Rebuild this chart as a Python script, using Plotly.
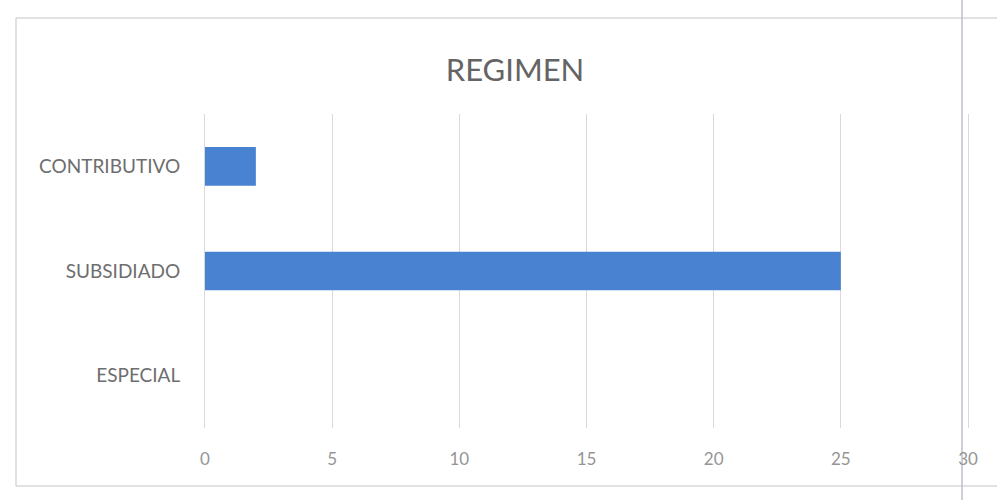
import plotly.graph_objects as go

categories = ["ESPECIAL", "SUBSIDIADO", "CONTRIBUTIVO"]
values = [0, 25, 2]
tick_vals = [0, 5, 10, 15, 20, 25, 30]
title_text = "REGIMEN"

W, H = 997, 500
L, R, T, B = 205, 29, 114, 72

fig = go.Figure(go.Bar(
    y=categories, x=values, orientation="h",
    marker=dict(color="#4a82d2", line=dict(width=0)),
    width=0.37,
))

fig.update_layout(
    width=W, height=H,
    margin=dict(l=L, r=R, t=T, b=B, autoexpand=False),
    paper_bgcolor="white", plot_bgcolor="white",
    title=dict(text=title_text, x=515 / W, xanchor="center", y=1 - 70 / H, yanchor="middle",
               font=dict(family="Lato, Open Sans, sans-serif", size=31, color="#646464")),
    showlegend=False,
    font=dict(family="Lato, Open Sans, sans-serif"),
)
fig.update_xaxes(range=[0, 30], tickvals=tick_vals, showgrid=True, gridcolor="#d9d9d9",
                 gridwidth=1, zeroline=False, showline=False, ticks="", automargin=False,
                 tickfont=dict(size=17, color="#959595"), ticklabelstandoff=19)
fig.update_yaxes(showgrid=False, showline=True, mirror=True, linecolor="#d9d9d9", linewidth=1,
                 ticks="", zeroline=False, automargin=False,
                 tickfont=dict(size=19, color="#6e6e6e"), ticklabelstandoff=20)

pw = W - L - R
ph = H - T - B
def px_x(x):
    return (x - L) / pw
def px_y(y):
    return (H - B - y) / ph

fig.add_shape(type="rect", xref="paper", yref="paper",
              x0=px_x(16), x1=px_x(1010), y0=px_y(486), y1=px_y(18),
              line=dict(color="#c4c4c4", width=1), layer="below")
fig.add_shape(type="line", xref="paper", yref="paper",
              x0=px_x(962), x1=px_x(962), y0=px_y(500), y1=px_y(0),
              line=dict(color="#bcc0cc", width=1.5), layer="below")

fig.write_html("out.html", config={"displayModeBar": False},
               post_script="document.body.style.margin='0';")
